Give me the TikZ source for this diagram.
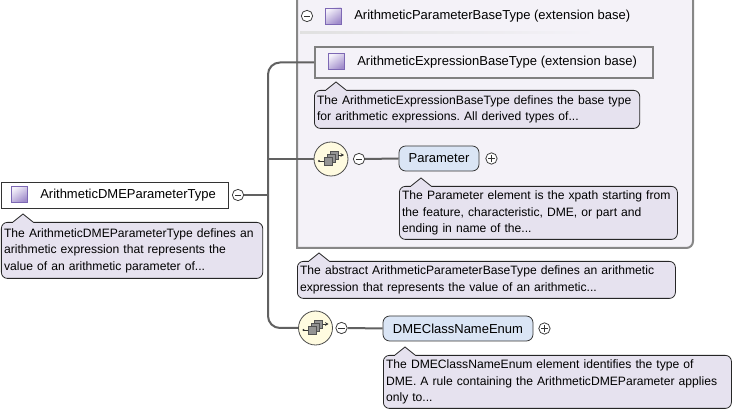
\documentclass[tikz,border=0pt]{standalone}
\usepackage{fontspec}
\setmainfont{Liberation Sans}
\usepackage{xcolor}
\usepackage{tikz}
\usetikzlibrary{arrows.meta,positioning,calc,shapes.geometric}
\definecolor{docfill}{HTML}{E6E2EF}
\definecolor{grpfill}{HTML}{F4F2F8}
\definecolor{elemfill}{HTML}{DAE5F5}
\definecolor{seqfill}{HTML}{FFFBE0}
\definecolor{sqlight}{HTML}{F4F1FA}
\definecolor{sqdark}{HTML}{A08CCB}
\definecolor{sqline}{HTML}{7D68B4}
\newcommand{\lblfont}{\fontsize{9.75}{11}\selectfont}
\newcommand{\docfont}{\fontsize{9.1}{12.4}\selectfont}
\frenchspacing
% callout notch on top of a doc box
\newcommand{\docnotch}[1]{%
  \fill[docfill] ($(#1.north west)+(12,1)$) -- ++(0,-1) -- ++(10,-8) -- ++(10,8) -- ++(0,1) -- cycle;
  \draw[black!85, line width=0.6pt] ($(#1.north west)+(12,0)$) -- ++(10,-8) -- ++(10,8);}
\tikzset{
  doc/.style     ={draw=black!85, fill=docfill, rounded corners=4.5pt, anchor=north west,
                   align=left, font=\docfont, inner xsep=2pt, inner ysep=0pt, line width=0.6pt},
  elem/.style    ={draw=black!80, fill=elemfill, rounded corners=5pt, font=\lblfont,
                   minimum height=18.75pt, inner xsep=0pt, line width=0.6pt},
  typebox/.style ={draw=black!80, fill=white, anchor=north west, line width=0.8pt},
  basebox/.style ={draw=black!50, fill=grpfill, anchor=north west, line width=1.5pt},
  grpbox/.style  ={draw=black!47, fill=grpfill, line width=1.5pt},
  tsq/.style     ={draw=sqline, top color=sqlight, bottom color=sqdark, shading angle=35,
                   minimum size=12pt, inner sep=0pt, line width=0.5pt},
  lbl/.style     ={font=\lblfont, inner sep=0pt, anchor=west},
  tog/.style     ={circle, draw=black!75, fill=white, minimum size=8.5pt, inner sep=0pt, line width=0.6pt},
  togminus/.style={tog, path picture={\draw[black!80, line width=0.6pt]
                     ([xshift=-2.4pt]path picture bounding box.center) -- ([xshift=2.4pt]path picture bounding box.center);}},
  togplus/.style ={tog, path picture={\draw[black!80, line width=0.6pt]
                     ([xshift=-2.4pt]path picture bounding box.center) -- ([xshift=2.4pt]path picture bounding box.center)
                     ([yshift=-2.4pt]path picture bounding box.center) -- ([yshift=2.4pt]path picture bounding box.center);}},
  seqnode/.style ={circle, draw=black!70, fill=seqfill, minimum size=25.5pt, inner sep=0pt, line width=0.6pt,
                   path picture={
                     \begin{scope}[shift={(path picture bounding box.center)}, x=0.75pt, y=-0.75pt]
                       \draw[black!80, line width=0.7pt] (-12,2) -- (-7,2);
                       \fill[black!80] (-12,2) circle (1.2);
                       \foreach \a/\b in {3/-4,0/-1,-3/2}
                         \draw[fill=black!42, draw=black!68, line width=0.5pt] (\a-4,\b-4) rectangle ++(8,8);
                       \draw[black!80, line width=0.7pt, -{Stealth[length=2.6pt,width=2.8pt]}] (7,-4) -- (13,-4);
                     \end{scope}}},
  conn/.style    ={draw=black!62, line width=1.5pt},
}

\begin{document}
\begin{tikzpicture}[x=0.75pt, y=-0.75pt]
\useasboundingbox (0,0) rectangle (740,413);

% extension base group
\draw[grpbox] (297,-4) -- (297,248) [rounded corners=5pt] -- (693,248) [sharp corners] -- (693,-4) -- cycle;
\shade[left color=black!12, middle color=black!55, right color=grpfill] (300,31.5) rectangle (597,34);

\node[togminus] (minBase) at (307,16) {};
\node[tsq] (sqBase) at (333,16) {};
\node[lbl] (lblBase) at (354,16.5) {ArithmeticParameterBaseType (extension base)};

\node[basebox, minimum width=253.5pt, minimum height=23.25pt] (typeExpr) at (314,46) {};
\node[tsq] (sqExpr) at (336,61.5) {};
\node[lbl] (lblExpr) at (357,62) {ArithmeticExpressionBaseType (extension base)};

\node[doc, text width=240pt, minimum height=28.5pt] (docExpr) at (314,90)
  {The ArithmeticExpressionBaseType defines the base type\\for arithmetic expressions. All derived types of...};
\docnotch{docExpr}

\node[seqnode] (seqParam) at (331,159) {};
\node[togminus] (minParam) at (359,159) {};
\node[elem, minimum width=60pt] (elemParam) at (439,158.5) {Parameter};
\node[togplus, right=4.5pt of elemParam] (plusParam) {};

\node[doc, text width=204.5pt, minimum height=39.75pt] (docParam) at (399,186)
  {The Parameter element is the xpath starting from\\the feature, characteristic, DME, or part and\\ending in name of the...};
\docnotch{docParam}

\node[doc, text width=279.5pt, minimum height=27.75pt] (docBase) at (297,261)
  {The abstract ArithmeticParameterBaseType defines an arithmetic\\expression that represents the value of an arithmetic...};
\docnotch{docBase}

% root type
\node[typebox, minimum width=170.25pt, minimum height=19.5pt] (typeDME) at (1,182) {};
\node[tsq] (sqDME) at (19,194.5) {};
\node[lbl] (lblDME) at (40,195.5) {ArithmeticDMEParameterType};
\node[togminus] (minDME) at (238,195) {};

\node[doc, text width=192pt, minimum height=42pt] (docDME) at (1,222)
  {The ArithmeticDMEParameterType defines an\\arithmetic expression that represents the\\value of an arithmetic parameter of...};
\docnotch{docDME}

% second sequence
\node[seqnode] (seqEnum) at (315.5,328) {};
\node[togminus] (minEnum) at (341.5,328) {};
\node[elem, minimum width=112.5pt] (elemEnum) at (458,328.5) {DMEClassNameEnum};
\node[togplus, right=3.75pt of elemEnum] (plusEnum) {};

\node[doc, text width=257pt, minimum height=39.75pt] (docEnum) at (383,355)
  {The DMEClassNameEnum element identifies the type of\\DME. A rule containing the ArithmeticDMEParameter applies\\only to...};
\docnotch{docEnum}

% connectors
\coordinate (jn) at (268,195);
\draw[conn] (minDME.east) -- (jn);
\draw[conn, rounded corners=9pt] (typeExpr.west) -| (jn) |- (seqEnum.west);
\draw[conn] (seqParam.west) -- (seqParam.west -| jn);
\draw[conn] (minParam.east) -- (elemParam.west);
\draw[conn] (minEnum.east) -- (elemEnum.west);

\end{tikzpicture}
\end{document}
